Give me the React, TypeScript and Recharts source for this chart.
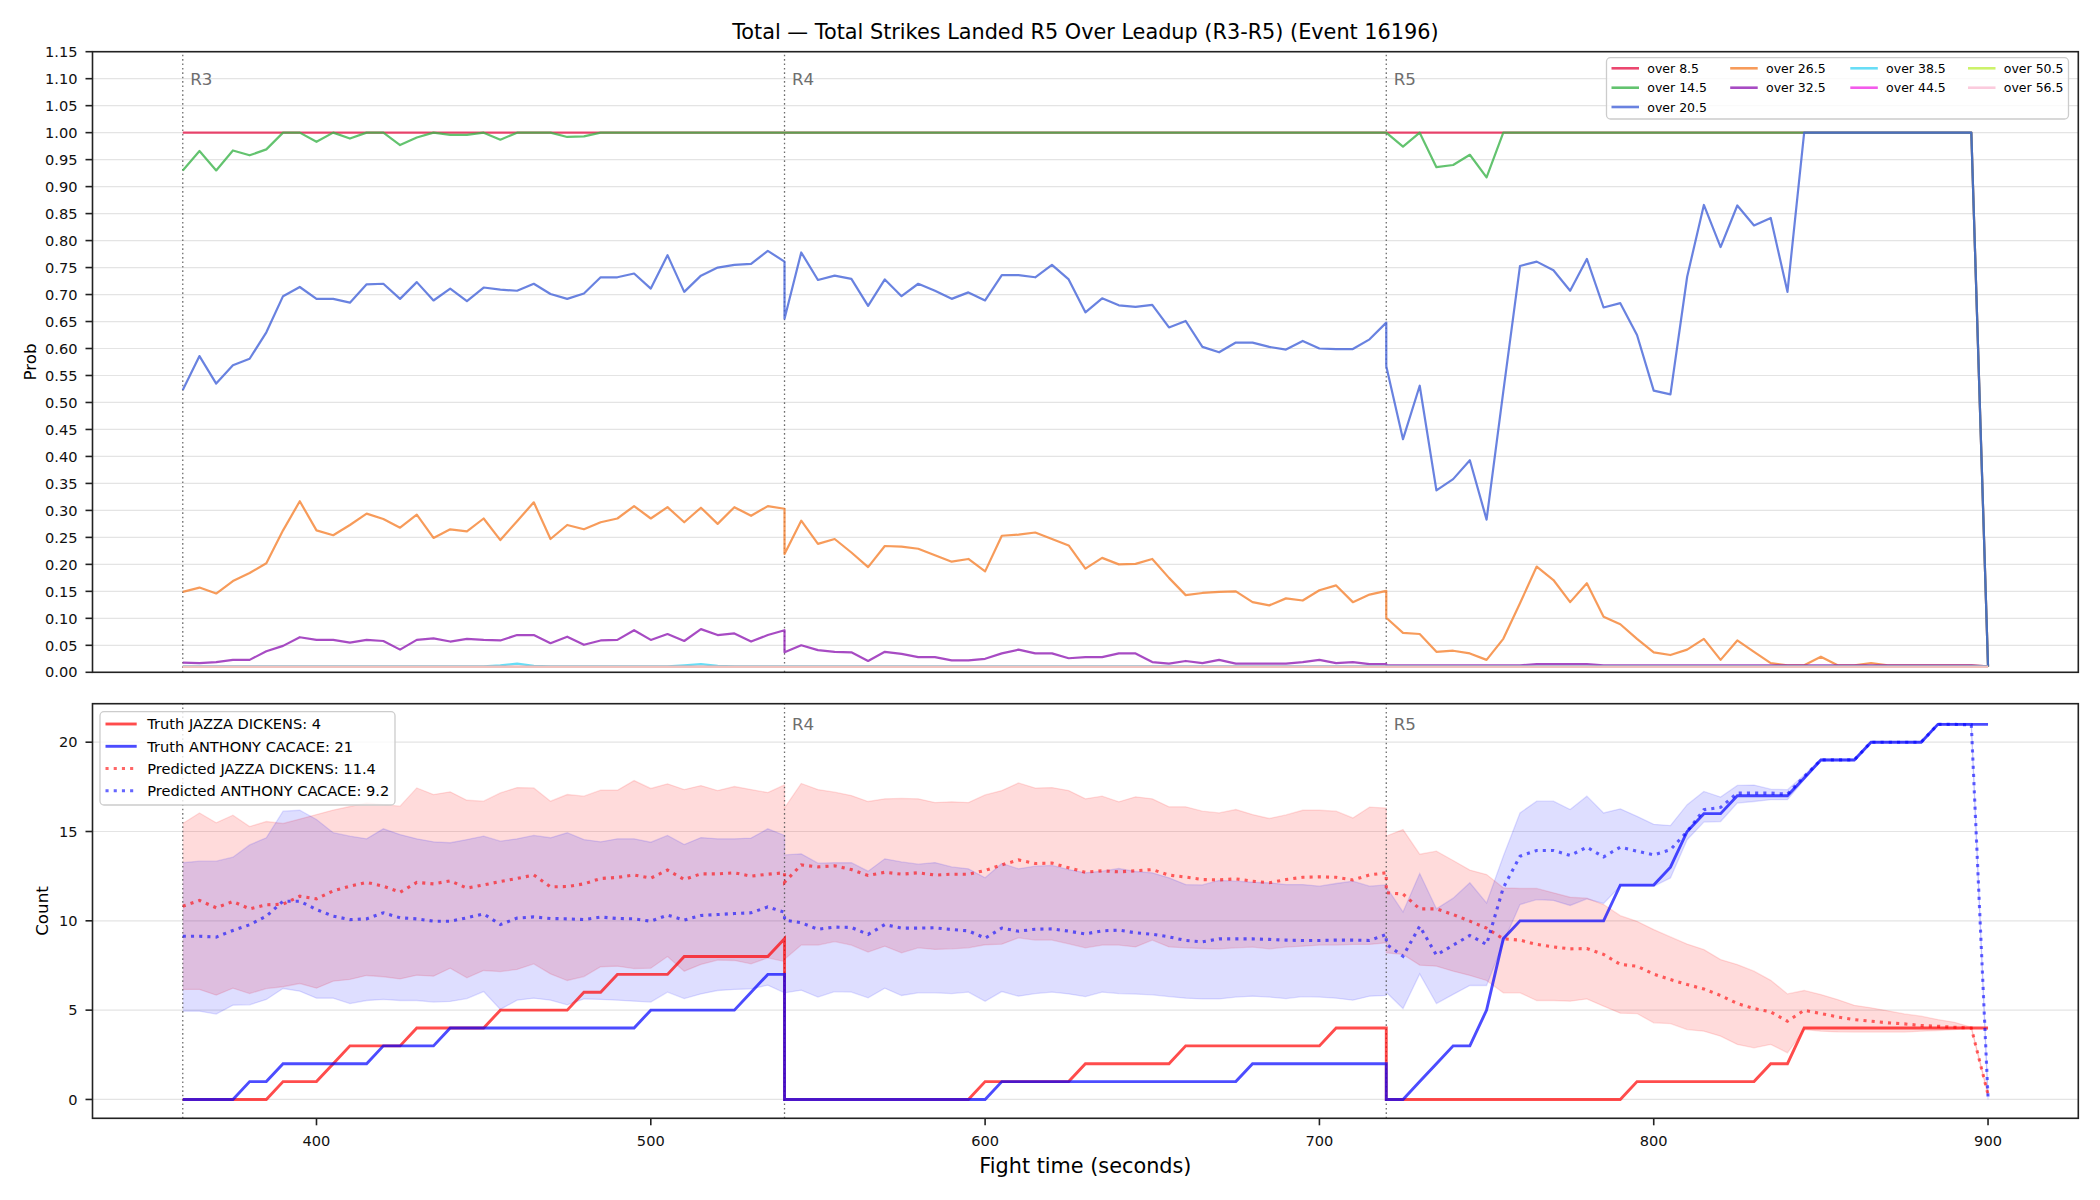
import React from 'react';
import {
  LineChart,
  ComposedChart,
  Line,
  Area,
  XAxis,
  YAxis,
  CartesianGrid,
  ReferenceLine,
} from 'recharts';

const FONT = '"DejaVu Sans", "Liberation Sans", sans-serif';

// Sample times (seconds). The round boundaries at 540 and 720 appear twice:
// the closing reading of one round and the opening reading of the next.
const times = [
  360, 365, 370, 375, 380, 385, 390, 395, 400, 405, 410, 415, 420, 425, 430, 435, 440, 445, 450, 455,
  460, 465, 470, 475, 480, 485, 490, 495, 500, 505, 510, 515, 520, 525, 530, 535, 540,
  540, 545, 550, 555, 560, 565, 570, 575, 580, 585, 590, 595, 600, 605, 610, 615, 620, 625, 630, 635,
  640, 645, 650, 655, 660, 665, 670, 675, 680, 685, 690, 695, 700, 705, 710, 715, 720,
  720, 725, 730, 735, 740, 745, 750, 755, 760, 765, 770, 775, 780, 785, 790, 795, 800, 805, 810, 815,
  820, 825, 830, 835, 840, 845, 850, 855, 860, 865, 870, 875, 880, 885, 890, 895, 900,
];

const rounds = [
  { name: 'R3', start: 360 },
  { name: 'R4', start: 540 },
  { name: 'R5', start: 720 },
];

const timeTicks = [400, 500, 600, 700, 800, 900];
const probTicks = [
  0, 0.05, 0.1, 0.15, 0.2, 0.25, 0.3, 0.35, 0.4, 0.45, 0.5, 0.55, 0.6, 0.65, 0.7, 0.75, 0.8, 0.85,
  0.9, 0.95, 1.0, 1.05, 1.1, 1.15,
];
const countTicks = [0, 5, 10, 15, 20];

// ---- probability of "total strikes landed over X" ----
const over85 = [
  1, 1, 1, 1, 1, 1, 1, 1, 1, 1, 1, 1, 1, 1, 1, 1, 1, 1, 1, 1, 1, 1, 1, 1, 1, 1, 1, 1, 1, 1, 1, 1, 1, 1, 1, 1, 1,
  1, 1, 1, 1, 1, 1, 1, 1, 1, 1, 1, 1, 1, 1, 1, 1, 1, 1, 1, 1, 1, 1, 1, 1, 1, 1, 1, 1, 1, 1, 1, 1, 1, 1, 1, 1, 1,
  1, 1, 1, 1, 1, 1, 1, 1, 1, 1, 1, 1, 1, 1, 1, 1, 1, 1, 1, 1, 1, 1, 1, 1, 1, 1, 1, 1, 1, 1, 1, 1, 1, 1, 1, 1, 0.01,
];
const over145 = [
  0.93, 0.966, 0.93, 0.967, 0.958, 0.969, 1, 1, 0.983, 1, 0.989, 1, 1, 0.977, 0.991, 1, 0.996, 0.996, 1, 0.987,
  1, 1, 1, 0.992, 0.993, 1, 1, 1, 1, 1, 1, 1, 1, 1, 1, 1, 1,
  1, 1, 1, 1, 1, 1, 1, 1, 1, 1, 1, 1, 1, 1, 1, 1, 1, 1, 1, 1, 1, 1, 1, 1, 1, 1, 1, 1, 1, 1, 1, 1, 1, 1, 1, 1, 1,
  1, 0.974, 1, 0.936, 0.94, 0.959, 0.917, 1, 1, 1, 1, 1, 1, 1, 1, 1, 1, 1, 1, 1, 1, 1, 1, 1, 1, 1, 1, 1, 1, 1,
  1, 1, 1, 1, 1, 1, 0.01,
];
const over205 = [
  0.523, 0.586, 0.535, 0.569, 0.581, 0.63, 0.697, 0.714, 0.692, 0.692, 0.685, 0.719, 0.72, 0.692, 0.723,
  0.689, 0.711, 0.688, 0.713, 0.709, 0.707, 0.72, 0.701, 0.692, 0.702, 0.732, 0.732, 0.739, 0.711, 0.773,
  0.705, 0.735, 0.75, 0.755, 0.757, 0.781, 0.761,
  0.655, 0.778, 0.727, 0.735, 0.729, 0.679, 0.728, 0.697, 0.72, 0.707, 0.692, 0.704, 0.689, 0.736, 0.736,
  0.732, 0.755, 0.728, 0.667, 0.693, 0.68, 0.677, 0.681, 0.639, 0.651, 0.603, 0.593, 0.611, 0.611, 0.603,
  0.598, 0.614, 0.6, 0.599, 0.599, 0.617, 0.648,
  0.567, 0.432, 0.531, 0.337, 0.358, 0.393, 0.283, 0.52, 0.753, 0.761, 0.745, 0.707, 0.766, 0.676, 0.684,
  0.625, 0.522, 0.515, 0.733, 0.866, 0.788, 0.865, 0.828, 0.842, 0.705, 1, 1, 1, 1, 1, 1, 1, 1, 1, 1, 1, 0.011,
];
const over265 = [
  0.149, 0.157, 0.146, 0.169, 0.184, 0.202, 0.263, 0.317, 0.263, 0.254, 0.273, 0.294, 0.284, 0.268, 0.292,
  0.249, 0.265, 0.261, 0.285, 0.245, 0.28, 0.315, 0.247, 0.273, 0.265, 0.278, 0.285, 0.308, 0.285, 0.306,
  0.278, 0.305, 0.275, 0.306, 0.29, 0.308, 0.303,
  0.219, 0.281, 0.238, 0.247, 0.222, 0.195, 0.234, 0.233, 0.229, 0.217, 0.205, 0.21, 0.187, 0.253, 0.255,
  0.259, 0.247, 0.235, 0.192, 0.212, 0.2, 0.201, 0.21, 0.175, 0.143, 0.147, 0.149, 0.15, 0.13, 0.124,
  0.137, 0.133, 0.152, 0.161, 0.13, 0.144, 0.151,
  0.101, 0.073, 0.071, 0.038, 0.04, 0.035, 0.023, 0.062, 0.128, 0.196, 0.171, 0.13, 0.165, 0.103, 0.089,
  0.062, 0.037, 0.032, 0.042, 0.062, 0.023, 0.059, 0.038, 0.017, 0.013, 0.013, 0.029, 0.013, 0.013, 0.017,
  0.013, 0.013, 0.013, 0.013, 0.013, 0.013, 0.011,
];
const over325 = [
  0.018, 0.017, 0.019, 0.023, 0.023, 0.039, 0.049, 0.065, 0.06, 0.06, 0.055, 0.06, 0.058, 0.042, 0.06,
  0.063, 0.057, 0.062, 0.06, 0.059, 0.069, 0.069, 0.054, 0.066, 0.051, 0.059, 0.06, 0.078, 0.06, 0.071,
  0.058, 0.08, 0.069, 0.072, 0.057, 0.069, 0.078,
  0.037, 0.05, 0.041, 0.038, 0.037, 0.021, 0.038, 0.034, 0.028, 0.028, 0.022, 0.022, 0.025, 0.035, 0.042,
  0.035, 0.035, 0.026, 0.028, 0.028, 0.035, 0.035, 0.019, 0.016, 0.021, 0.017, 0.023, 0.016, 0.016, 0.016,
  0.016, 0.019, 0.023, 0.017, 0.019, 0.015, 0.015,
  0.013, 0.013, 0.013, 0.013, 0.013, 0.013, 0.013, 0.013, 0.013, 0.015, 0.015, 0.015, 0.015, 0.013, 0.013,
  0.013, 0.013, 0.013, 0.013, 0.013, 0.013, 0.013, 0.013, 0.013, 0.013, 0.013, 0.013, 0.013, 0.013, 0.013,
  0.013, 0.013, 0.013, 0.013, 0.013, 0.013, 0.011,
];
const over385 = [
  0.011, 0.011, 0.011, 0.011, 0.011, 0.011, 0.011, 0.011, 0.011, 0.011, 0.011, 0.011, 0.011, 0.011, 0.011,
  0.011, 0.011, 0.011, 0.011, 0.013, 0.016, 0.012, 0.011, 0.011, 0.011, 0.011, 0.011, 0.011, 0.011, 0.011,
  0.013, 0.015, 0.012, 0.011, 0.011, 0.011, 0.011,
  0.011, 0.011, 0.011, 0.011, 0.011, 0.011, 0.011, 0.011, 0.011, 0.011, 0.011, 0.011, 0.011, 0.011, 0.011,
  0.011, 0.011, 0.011, 0.011, 0.011, 0.011, 0.011, 0.011, 0.011, 0.011, 0.011, 0.011, 0.011, 0.011, 0.011,
  0.011, 0.011, 0.011, 0.011, 0.011, 0.011, 0.011,
  0.011, 0.011, 0.011, 0.011, 0.011, 0.011, 0.011, 0.011, 0.011, 0.011, 0.011, 0.011, 0.011, 0.011, 0.011,
  0.011, 0.011, 0.011, 0.011, 0.011, 0.011, 0.011, 0.011, 0.011, 0.011, 0.011, 0.011, 0.011, 0.011, 0.011,
  0.011, 0.011, 0.011, 0.011, 0.011, 0.011, 0.011,
];
const over445 = [
  0.01, 0.01, 0.01, 0.01, 0.01, 0.01, 0.01, 0.01, 0.01, 0.01, 0.01, 0.01, 0.01, 0.01, 0.01, 0.01, 0.01, 0.01,
  0.01, 0.01, 0.01, 0.01, 0.01, 0.01, 0.01, 0.01, 0.01, 0.01, 0.01, 0.01, 0.01, 0.01, 0.01, 0.01, 0.01, 0.01, 0.01,
  0.01, 0.01, 0.01, 0.01, 0.01, 0.01, 0.01, 0.01, 0.01, 0.01, 0.01, 0.01, 0.01, 0.01, 0.01, 0.01, 0.01, 0.01,
  0.01, 0.01, 0.01, 0.01, 0.01, 0.01, 0.01, 0.01, 0.01, 0.01, 0.01, 0.01, 0.01, 0.01, 0.01, 0.01, 0.01, 0.01, 0.01,
  0.01, 0.01, 0.01, 0.01, 0.01, 0.01, 0.01, 0.01, 0.01, 0.01, 0.01, 0.01, 0.01, 0.01, 0.01, 0.01, 0.01, 0.01,
  0.01, 0.01, 0.01, 0.01, 0.01, 0.01, 0.01, 0.01, 0.01, 0.01, 0.01, 0.01, 0.01, 0.01, 0.01, 0.01, 0.01, 0.01, 0.01,
];
const over505 = [
  0.01, 0.01, 0.01, 0.01, 0.01, 0.01, 0.01, 0.01, 0.01, 0.01, 0.01, 0.01, 0.01, 0.01, 0.01, 0.01, 0.01, 0.01,
  0.01, 0.01, 0.01, 0.01, 0.01, 0.01, 0.01, 0.01, 0.01, 0.01, 0.01, 0.01, 0.01, 0.01, 0.01, 0.01, 0.01, 0.01, 0.01,
  0.01, 0.01, 0.01, 0.01, 0.01, 0.01, 0.01, 0.01, 0.01, 0.01, 0.01, 0.01, 0.01, 0.01, 0.01, 0.01, 0.01, 0.01,
  0.01, 0.01, 0.01, 0.01, 0.01, 0.01, 0.01, 0.01, 0.01, 0.01, 0.01, 0.01, 0.01, 0.01, 0.01, 0.01, 0.01, 0.01, 0.01,
  0.01, 0.01, 0.01, 0.01, 0.01, 0.01, 0.01, 0.01, 0.01, 0.01, 0.01, 0.01, 0.01, 0.01, 0.01, 0.01, 0.01, 0.01,
  0.01, 0.01, 0.01, 0.01, 0.01, 0.01, 0.01, 0.01, 0.01, 0.01, 0.01, 0.01, 0.01, 0.01, 0.01, 0.01, 0.01, 0.01, 0.01,
];
const over565 = [
  0.01, 0.01, 0.01, 0.01, 0.01, 0.01, 0.01, 0.01, 0.01, 0.01, 0.01, 0.01, 0.01, 0.01, 0.01, 0.01, 0.01, 0.01,
  0.01, 0.01, 0.01, 0.01, 0.01, 0.01, 0.01, 0.01, 0.01, 0.01, 0.01, 0.01, 0.01, 0.01, 0.01, 0.01, 0.01, 0.01, 0.01,
  0.01, 0.01, 0.01, 0.01, 0.01, 0.01, 0.01, 0.01, 0.01, 0.01, 0.01, 0.01, 0.01, 0.01, 0.01, 0.01, 0.01, 0.01,
  0.01, 0.01, 0.01, 0.01, 0.01, 0.01, 0.01, 0.01, 0.01, 0.01, 0.01, 0.01, 0.01, 0.01, 0.01, 0.01, 0.01, 0.01, 0.01,
  0.01, 0.01, 0.01, 0.01, 0.01, 0.01, 0.01, 0.01, 0.01, 0.01, 0.01, 0.01, 0.01, 0.01, 0.01, 0.01, 0.01, 0.01,
  0.01, 0.01, 0.01, 0.01, 0.01, 0.01, 0.01, 0.01, 0.01, 0.01, 0.01, 0.01, 0.01, 0.01, 0.01, 0.01, 0.01, 0.01, 0.01,
];

// ---- strike counts: truth, prediction and prediction band ----
const truthJazza = [
  0, 0, 0, 0, 0, 0, 1, 1, 1, 2, 3, 3, 3, 3, 4, 4, 4, 4, 4, 5, 5, 5, 5, 5, 6, 6, 7, 7, 7, 7, 8, 8, 8, 8, 8, 8, 9,
  0, 0, 0, 0, 0, 0, 0, 0, 0, 0, 0, 0, 1, 1, 1, 1, 1, 1, 2, 2, 2, 2, 2, 2, 3, 3, 3, 3, 3, 3, 3, 3, 3, 4, 4, 4, 4,
  0, 0, 0, 0, 0, 0, 0, 0, 0, 0, 0, 0, 0, 0, 0, 1, 1, 1, 1, 1, 1, 1, 1, 2, 2, 4, 4, 4, 4, 4, 4, 4, 4, 4, 4, 4, 4,
];
const truthAnthony = [
  0, 0, 0, 0, 1, 1, 2, 2, 2, 2, 2, 2, 3, 3, 3, 3, 4, 4, 4, 4, 4, 4, 4, 4, 4, 4, 4, 4, 5, 5, 5, 5, 5, 5, 6, 7, 7,
  0, 0, 0, 0, 0, 0, 0, 0, 0, 0, 0, 0, 0, 1, 1, 1, 1, 1, 1, 1, 1, 1, 1, 1, 1, 1, 1, 1, 2, 2, 2, 2, 2, 2, 2, 2, 2,
  0, 0, 1, 2, 3, 3, 5, 9, 10, 10, 10, 10, 10, 10, 12, 12, 12, 13, 15, 16, 16, 17, 17, 17, 17, 18, 19, 19, 19,
  20, 20, 20, 20, 21, 21, 21, 21,
];
const predJazza = [
  10.82, 11.14, 10.73, 11.08, 10.67, 10.9, 10.93, 11.38, 11.23, 11.68, 11.94, 12.15, 11.94, 11.6, 12.15,
  12.07, 12.24, 11.83, 12.01, 12.2, 12.37, 12.57, 11.9, 11.92, 12.07, 12.37, 12.43, 12.57, 12.39, 12.84,
  12.31, 12.63, 12.63, 12.69, 12.5, 12.61, 12.69,
  12.16, 13.13, 13.02, 13.08, 12.87, 12.54, 12.72, 12.61, 12.69, 12.56, 12.61, 12.61, 12.82, 13.13, 13.41,
  13.21, 13.23, 12.97, 12.72, 12.8, 12.74, 12.8, 12.87, 12.56, 12.45, 12.31, 12.29, 12.35, 12.22, 12.13,
  12.31, 12.44, 12.46, 12.44, 12.29, 12.57, 12.69,
  11.57, 11.5, 10.67, 10.67, 10.35, 9.98, 9.59, 8.99, 8.92, 8.68, 8.54, 8.43, 8.45, 8.12, 7.56, 7.46, 7.02,
  6.71, 6.43, 6.19, 5.82, 5.37, 5.09, 4.9, 4.38, 4.99, 4.81, 4.62, 4.47, 4.38, 4.29, 4.23, 4.14, 4.1, 4.04,
  4.0, 0.28,
];
const predAnthony = [
  9.14, 9.14, 9.09, 9.46, 9.78, 10.26, 11.1, 11.1, 10.63, 10.26, 10.07, 10.11, 10.45, 10.17, 10.11, 9.98,
  9.98, 10.17, 10.39, 9.79, 10.15, 10.22, 10.13, 10.11, 10.07, 10.21, 10.13, 10.11, 9.98, 10.32, 10.04,
  10.3, 10.35, 10.41, 10.45, 10.78, 10.48,
  10.04, 9.89, 9.53, 9.65, 9.63, 9.24, 9.79, 9.59, 9.59, 9.61, 9.51, 9.44, 9.03, 9.59, 9.42, 9.53, 9.55,
  9.42, 9.27, 9.44, 9.48, 9.33, 9.25, 9.1, 8.9, 8.82, 8.99, 8.99, 8.99, 8.96, 8.92, 8.9, 8.9, 8.92, 8.92,
  8.9, 9.24,
  8.7, 8.02, 9.7, 8.08, 8.64, 9.18, 8.68, 11.85, 13.62, 13.94, 13.94, 13.66, 14.12, 13.58, 14.12, 13.9,
  13.69, 13.98, 15.0, 16.22, 16.35, 17.15, 17.15, 17.15, 17.09, 18.08, 19.01, 19.01, 19.01, 20.0, 20.0,
  20.0, 20.0, 21.0, 21.0, 20.97, 0.1,
];
const bandJazzaHigh = [
  15.45, 16.04, 15.49, 15.91, 15.28, 15.56, 15.45, 15.7, 15.95, 16.2, 16.4, 16.6, 16.5, 16.42, 17.44, 17.07,
  17.22, 16.75, 16.7, 17.16, 17.46, 17.44, 16.7, 17.07, 16.98, 17.31, 17.31, 17.85, 17.41, 17.67, 17.35,
  17.57, 17.29, 17.52, 17.35, 17.18, 17.61,
  16.32, 17.69, 17.35, 17.2, 17.01, 16.68, 16.83, 16.85, 16.83, 16.62, 16.66, 16.62, 17.05, 17.29, 17.72,
  17.43, 17.46, 17.29, 16.83, 16.98, 16.66, 16.94, 16.83, 16.38, 16.38, 16.14, 16.04, 16.23, 15.95, 15.73,
  15.93, 16.19, 16.19, 16.14, 15.76, 16.36, 16.31,
  14.74, 15.11, 13.73, 13.9, 13.38, 12.84, 12.59, 11.85, 11.81, 11.81, 11.57, 11.32, 11.27, 10.91, 10.29,
  9.97, 9.51, 9.1, 8.7, 8.39, 7.83, 7.55, 7.18, 6.67, 5.91, 6.1, 5.87, 5.59, 5.27, 5.13, 4.96, 4.79, 4.66,
  4.47, 4.32, 4.04, 0.35,
];
const bandJazzaLow = [
  6.16, 6.16, 5.84, 6.23, 5.93, 6.21, 6.31, 6.49, 6.23, 6.62, 6.72, 6.94, 6.87, 6.75, 6.96, 6.9, 7.35, 6.81,
  7.22, 7.16, 7.28, 7.59, 7.03, 6.66, 6.88, 7.43, 7.46, 7.33, 7.35, 8.0, 7.18, 7.56, 7.8, 7.78, 7.59, 7.93,
  7.72,
  7.85, 8.64, 8.64, 8.84, 8.64, 8.25, 8.58, 8.21, 8.49, 8.4, 8.43, 8.49, 8.66, 8.69, 9.05, 8.92, 8.92, 8.71,
  8.49, 8.64, 8.64, 8.54, 8.92, 8.54, 8.49, 8.45, 8.43, 8.49, 8.53, 8.43, 8.53, 8.58, 8.64, 8.64, 8.68, 8.68,
  8.77,
  8.21, 8.12, 7.52, 7.46, 7.18, 6.94, 6.66, 5.97, 5.97, 5.54, 5.54, 5.5, 5.63, 5.22, 4.83, 4.81, 4.29, 4.25,
  3.91, 3.82, 3.54, 3.08, 2.89, 3.08, 2.61, 3.91, 3.82, 3.78, 3.77, 3.77, 3.77, 3.77, 3.82, 3.86, 3.91, 4.0,
  0.2,
];
const bandAnthonyHigh = [
  13.25, 13.34, 13.34, 13.56, 14.25, 14.65, 16.14, 16.19, 15.67, 14.93, 14.74, 14.59, 15.15, 14.83, 14.59,
  14.42, 14.37, 14.55, 14.74, 14.46, 14.59, 14.78, 14.65, 14.93, 14.55, 14.42, 14.59, 14.59, 14.4, 14.78,
  14.27, 14.66, 14.59, 14.59, 14.63, 15.15, 14.78,
  13.69, 13.75, 13.23, 13.25, 13.25, 12.78, 13.47, 13.3, 13.17, 13.26, 13.02, 12.91, 12.41, 13.21, 12.91,
  13.06, 13.1, 12.87, 12.69, 12.78, 12.93, 12.76, 12.69, 12.41, 12.03, 12.01, 12.26, 12.22, 12.16, 12.13,
  12.03, 12.03, 11.94, 12.09, 12.22, 11.94, 12.01,
  11.9, 10.5, 12.65, 10.67, 11.27, 12.13, 11.0, 13.62, 16.04, 16.7, 16.7, 16.23, 16.98, 16.04, 16.27, 15.85,
  15.4, 15.33, 16.5, 17.24, 16.93, 17.58, 17.6, 17.37, 17.34, 18.17, 19.07, 19.07, 19.07, 20.05, 20.05,
  20.05, 20.05, 21.05, 21.05, 21.05, 0.2,
];
const bandAnthonyLow = [
  4.94, 4.94, 4.78, 5.28, 5.3, 5.6, 6.21, 6.06, 5.67, 5.67, 5.37, 5.54, 5.6, 5.54, 5.54, 5.45, 5.49, 5.65,
  6.04, 5.04, 5.56, 5.67, 5.56, 5.3, 5.63, 5.6, 5.56, 5.5, 5.45, 6.01, 5.65, 5.91, 6.1, 6.16, 6.19, 6.4, 5.97,
  5.97, 6.12, 5.73, 6.04, 6.01, 5.69, 6.23, 5.82, 5.97, 5.97, 5.93, 6.01, 5.5, 6.04, 5.78, 5.93, 6.01, 5.91,
  5.76, 6.01, 5.93, 5.9, 5.86, 5.76, 5.67, 5.63, 5.63, 5.73, 5.78, 5.73, 5.65, 5.76, 5.73, 5.67, 5.56, 5.78,
  5.82,
  6.0, 5.09, 7.03, 5.37, 5.88, 6.38, 6.38, 8.77, 10.91, 11.19, 11.14, 10.86, 11.23, 10.97, 11.94, 11.94,
  11.93, 12.4, 14.54, 15.53, 15.56, 16.59, 16.68, 16.78, 16.78, 17.89, 18.96, 18.96, 18.96, 19.95, 19.95,
  19.95, 19.95, 20.95, 20.95, 20.95, 0.0,
];

const probSeries = [
  { key: 'o85', name: 'over 8.5', color: '#e6194b', values: over85 },
  { key: 'o145', name: 'over 14.5', color: '#3cb44b', values: over145 },
  { key: 'o205', name: 'over 20.5', color: '#4363d8', values: over205 },
  { key: 'o265', name: 'over 26.5', color: '#f58231', values: over265 },
  { key: 'o325', name: 'over 32.5', color: '#911eb4', values: over325 },
  { key: 'o385', name: 'over 38.5', color: '#42d4f4', values: over385 },
  { key: 'o445', name: 'over 44.5', color: '#f032e6', values: over445 },
  { key: 'o505', name: 'over 50.5', color: '#bfef45', values: over505 },
  { key: 'o565', name: 'over 56.5', color: '#fabed4', values: over565 },
];
// legend grid: four columns filled top-to-bottom (3, 2, 2, 2 entries)
const probLegendCol = [0, 0, 0, 1, 1, 2, 2, 3, 3];
const probLegendRow = [0, 1, 2, 0, 1, 0, 1, 0, 1];

const countLegend = [
  { label: 'Truth JAZZA DICKENS: 4', color: '#ff0000', opacity: 0.7, dotted: false },
  { label: 'Truth ANTHONY CACACE: 21', color: '#0000ff', opacity: 0.7, dotted: false },
  { label: 'Predicted JAZZA DICKENS: 11.4', color: '#ff0000', opacity: 0.6, dotted: true },
  { label: 'Predicted ANTHONY CACACE: 9.2', color: '#0000ff', opacity: 0.6, dotted: true },
];

// ---- layout (page pixels) ----
const W = 2100;
const PLOT_LEFT = 92.5;
const PLOT_RIGHT = 2078.3;
const TOP_PLOT_TOP = 51.7;
const TOP_PLOT_BOTTOM = 672.3;
const BOT_CHART_Y = 700;
const BOT_PLOT_TOP = 703.7;
const BOT_PLOT_BOTTOM = 1118.3;
const Y_AXIS_W = 60;
const SPINE = '#222';
const DOTTED = '3.1 5.1';

const tickStyle = { fontSize: 14.6, fill: '#111', fontFamily: FONT };

function RoundTag(props: any) {
  const { viewBox, text, drop } = props;
  if (!viewBox) return null;
  return (
    <text x={viewBox.x + 7.5} y={viewBox.y + drop} fill="#6e6e6e" fontSize={16.7} fontFamily={FONT}>
      {text}
    </text>
  );
}

// dotted round-start markers; names listed in `tagged` get a text tag
function roundLines(drop: number, tagged: string[]) {
  return rounds.map((r) => (
    <ReferenceLine
      key={r.name}
      x={r.start}
      stroke="#555"
      strokeOpacity={0.85}
      strokeWidth={1.3}
      strokeDasharray="1.6 2.8"
      label={tagged.includes(r.name) ? <RoundTag text={r.name} drop={drop} /> : undefined}
    />
  ));
}

export default function App() {
  const rows = times.map((t, i) => {
    const row: any = {
      t,
      truthJ: truthJazza[i],
      truthA: truthAnthony[i],
      predJ: predJazza[i],
      predA: predAnthony[i],
      bandJ: [bandJazzaLow[i], bandJazzaHigh[i]],
      bandA: [bandAnthonyLow[i], bandAnthonyHigh[i]],
    };
    probSeries.forEach((s) => {
      row[s.key] = s.values[i];
    });
    return row;
  });

  const plotW = PLOT_RIGHT - PLOT_LEFT;
  const topH = 700;
  const botH = 500;

  // top legend frame
  const tlX = 1606.5;
  const tlY = 57.7;
  const tlColX = [1611.5, 1730.2, 1850.3, 1968];
  const tlRowY = [68.3, 87.7, 107];
  // bottom legend frame
  const blX = 100;
  const blY = 711.7;
  const blRowY = [724, 746.3, 768.5, 790.8];

  return (
    <div
      style={{
        position: 'absolute',
        left: 0,
        top: 0,
        width: W,
        height: 1200,
        background: '#fff',
        fontFamily: FONT,
      }}
    >
      <div style={{ position: 'absolute', left: 0, top: 0 }}>
        <LineChart
          width={W}
          height={topH}
          data={rows}
          margin={{ top: TOP_PLOT_TOP, right: W - PLOT_RIGHT, bottom: topH - TOP_PLOT_BOTTOM - 20, left: PLOT_LEFT - Y_AXIS_W }}
        >
          <CartesianGrid vertical={false} stroke="#e4e4e4" strokeWidth={1.2} />
          <XAxis
            dataKey="t"
            type="number"
            domain={[333, 927]}
            ticks={timeTicks}
            interval={0}
            height={20}
            tick={false}
            tickSize={7}
            axisLine={false}
            tickLine={{ stroke: SPINE, strokeWidth: 1.6 }}
            allowDataOverflow
          />
          <YAxis
            type="number"
            domain={[0, 1.15]}
            ticks={probTicks}
            interval={0}
            width={Y_AXIS_W}
            tick={tickStyle}
            tickSize={7}
            tickMargin={8}
            tickFormatter={(v: number) => v.toFixed(2)}
            axisLine={false}
            tickLine={{ stroke: SPINE, strokeWidth: 1.6 }}
            allowDataOverflow
          />
          {roundLines(33, ['R3', 'R4', 'R5'])}
          {probSeries.map((s) => (
            <Line
              key={s.key}
              dataKey={s.key}
              type="linear"
              stroke={s.color}
              strokeOpacity={0.8}
              strokeWidth={2.2}
              strokeLinejoin="round"
              dot={false}
              activeDot={false}
              isAnimationActive={false}
            />
          ))}
        </LineChart>
      </div>

      <div style={{ position: 'absolute', left: 0, top: BOT_CHART_Y }}>
        <ComposedChart
          width={W}
          height={botH}
          data={rows}
          margin={{
            top: BOT_PLOT_TOP - BOT_CHART_Y,
            right: W - PLOT_RIGHT,
            bottom: botH - (BOT_PLOT_BOTTOM - BOT_CHART_Y) - 40,
            left: PLOT_LEFT - Y_AXIS_W,
          }}
        >
          <CartesianGrid vertical={false} stroke="#e4e4e4" strokeWidth={1.2} />
          <XAxis
            dataKey="t"
            type="number"
            domain={[333, 927]}
            ticks={timeTicks}
            interval={0}
            height={40}
            tick={tickStyle}
            tickSize={7}
            tickMargin={10}
            axisLine={false}
            tickLine={{ stroke: SPINE, strokeWidth: 1.6 }}
            allowDataOverflow
          />
          <YAxis
            type="number"
            domain={[-1.055, 22.155]}
            ticks={countTicks}
            interval={0}
            width={Y_AXIS_W}
            tick={tickStyle}
            tickSize={7}
            tickMargin={8}
            axisLine={false}
            tickLine={{ stroke: SPINE, strokeWidth: 1.6 }}
            allowDataOverflow
          />
          {roundLines(25.8, ['R4', 'R5'])}
          <Area
            dataKey="bandJ"
            type="linear"
            fill="#ff0000"
            fillOpacity={0.14}
            stroke="#ff0000"
            strokeOpacity={0.12}
            strokeWidth={1.3}
            dot={false}
            activeDot={false}
            isAnimationActive={false}
          />
          <Area
            dataKey="bandA"
            type="linear"
            fill="#0000ff"
            fillOpacity={0.13}
            stroke="#0000ff"
            strokeOpacity={0.12}
            strokeWidth={1.3}
            dot={false}
            activeDot={false}
            isAnimationActive={false}
          />
          <Line
            dataKey="truthJ"
            type="linear"
            stroke="#ff0000"
            strokeOpacity={0.7}
            strokeWidth={2.9}
            dot={false}
            activeDot={false}
            isAnimationActive={false}
          />
          <Line
            dataKey="truthA"
            type="linear"
            stroke="#0000ff"
            strokeOpacity={0.7}
            strokeWidth={2.9}
            dot={false}
            activeDot={false}
            isAnimationActive={false}
          />
          <Line
            dataKey="predJ"
            type="linear"
            stroke="#ff0000"
            strokeOpacity={0.6}
            strokeWidth={3.1}
            strokeDasharray={DOTTED}
            dot={false}
            activeDot={false}
            isAnimationActive={false}
          />
          <Line
            dataKey="predA"
            type="linear"
            stroke="#0000ff"
            strokeOpacity={0.6}
            strokeWidth={3.1}
            strokeDasharray={DOTTED}
            dot={false}
            activeDot={false}
            isAnimationActive={false}
          />
        </ComposedChart>
      </div>

      <svg
        width={W}
        height={1200}
        style={{ position: 'absolute', left: 0, top: 0, pointerEvents: 'none' }}
      >
        {/* axes frames */}
        <rect
          x={PLOT_LEFT}
          y={TOP_PLOT_TOP}
          width={plotW}
          height={TOP_PLOT_BOTTOM - TOP_PLOT_TOP}
          fill="none"
          stroke={SPINE}
          strokeWidth={1.6}
        />
        <rect
          x={PLOT_LEFT}
          y={BOT_PLOT_TOP}
          width={plotW}
          height={BOT_PLOT_BOTTOM - BOT_PLOT_TOP}
          fill="none"
          stroke={SPINE}
          strokeWidth={1.6}
        />

        {/* title and axis labels */}
        <text x={(PLOT_LEFT + PLOT_RIGHT) / 2} y={39.3} textAnchor="middle" fontSize={20.8} fill="#000" fontFamily={FONT}>
          Total — Total Strikes Landed R5 Over Leadup (R3-R5) (Event 16196)
        </text>
        <text
          x={(PLOT_LEFT + PLOT_RIGHT) / 2}
          y={1172.5}
          textAnchor="middle"
          fontSize={20.8}
          fill="#000"
          fontFamily={FONT}
        >
          Fight time (seconds)
        </text>
        <text
          x={29.5}
          y={362}
          textAnchor="middle"
          dominantBaseline="central"
          fontSize={16.7}
          fill="#000"
          fontFamily={FONT}
          transform="rotate(-90 29.5 362)"
        >
          Prob
        </text>
        <text
          x={41.5}
          y={911}
          textAnchor="middle"
          dominantBaseline="central"
          fontSize={16.7}
          fill="#000"
          fontFamily={FONT}
          transform="rotate(-90 41.5 911)"
        >
          Count
        </text>

        {/* probability legend */}
        <rect x={tlX} y={tlY} width={462} height={61.3} rx={4} fill="#fff" fillOpacity={0.8} stroke="#cccccc" strokeWidth={1.3} />
        {probSeries.map((s, i) => {
          const x = tlColX[probLegendCol[i]];
          const y = tlRowY[probLegendRow[i]];
          return (
            <g key={s.key}>
              <line x1={x} x2={x + 27.5} y1={y} y2={y} stroke={s.color} strokeOpacity={0.8} strokeWidth={2.6} />
              <text x={x + 35.8} y={y + 4.5} fontSize={12.5} fill="#000" fontFamily={FONT}>
                {s.name}
              </text>
            </g>
          );
        })}

        {/* count legend */}
        <rect x={blX} y={blY} width={295} height={93.3} rx={4} fill="#fff" fillOpacity={0.8} stroke="#cccccc" strokeWidth={1.3} />
        {countLegend.map((e, i) => {
          const y = blRowY[i];
          return (
            <g key={e.label}>
              <line
                x1={105.5}
                x2={136.7}
                y1={y}
                y2={y}
                stroke={e.color}
                strokeOpacity={e.opacity}
                strokeWidth={e.dotted ? 3.1 : 2.9}
                strokeDasharray={e.dotted ? DOTTED : undefined}
              />
              <text x={147.3} y={y + 5.2} fontSize={14.6} fill="#000" fontFamily={FONT}>
                {e.label}
              </text>
            </g>
          );
        })}
      </svg>
    </div>
  );
}
